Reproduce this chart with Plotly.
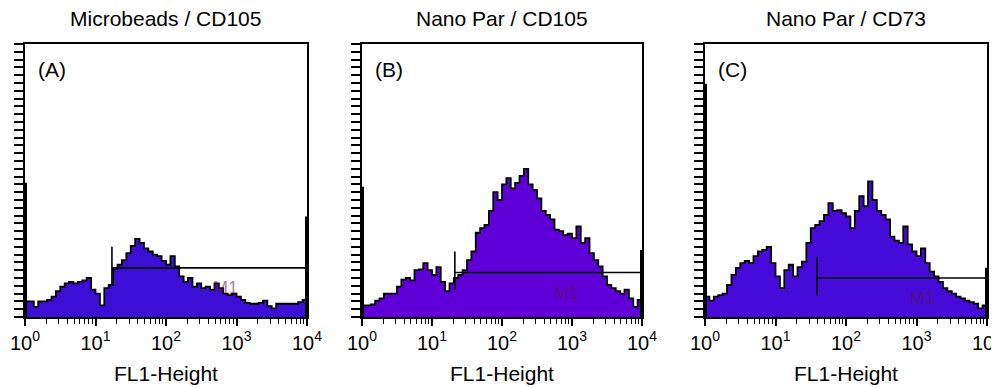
import math
import plotly.graph_objects as go

# ---------------- data ----------------
panel_titles = ["Microbeads / CD105", "Nano Par / CD105", "Nano Par / CD73"]
panel_letters = ["(A)", "(B)", "(C)"]
x_tick_values = [1, 10, 100, 1000, 10000]
x_tick_labels = ["10<sup>0</sup>", "10<sup>1</sup>", "10<sup>2</sup>", "10<sup>3</sup>", "10<sup>4</sup>"]
x_axis_title = "FL1-Height"

bins_per_decade = 16
n_bins = 64

counts_a = [20, 20, 13, 20, 20, 22, 26, 33, 39, 43, 45, 43, 45, 47, 50, 35,
            30, 15, 37, 41, 62, 67, 73, 82, 91, 100, 95, 88, 84, 80, 78, 72,
            67, 78, 65, 52, 45, 50, 39, 43, 37, 39, 35, 43, 37, 30, 28, 30,
            26, 22, 18, 17, 17, 18, 21, 14, 11, 17, 17, 17, 17, 17, 19, 22]
counts_b = [15, 15, 16, 21, 24, 30, 30, 30, 39, 48, 50, 47, 60, 61, 69, 60,
            54, 64, 45, 33, 43, 50, 54, 60, 73, 84, 108, 114, 118, 136, 160, 150,
            170, 178, 165, 172, 181, 190, 170, 163, 152, 136, 131, 125, 112, 110, 105, 107,
            101, 116, 95, 101, 82, 73, 65, 52, 41, 37, 33, 30, 35, 24, 13, 22]
counts_c = [26, 21, 26, 28, 30, 41, 54, 63, 69, 72, 69, 78, 84, 86, 90, 69,
            52, 37, 60, 67, 52, 64, 71, 95, 114, 118, 123, 131, 146, 136, 137, 133,
            129, 114, 136, 155, 142, 174, 150, 136, 131, 125, 103, 98, 95, 116, 93, 84,
            78, 88, 69, 58, 52, 45, 37, 33, 30, 26, 24, 21, 19, 17, 11, 15]
all_counts = [counts_a, counts_b, counts_c]

# counts piled up in the first and last channel
edge_low = [172, 167, 299]
edge_high = [129, 86, 63]

# M1 marker: start channel and level (counts)
marker_start = [17.1, 21.2, 38.8]
marker_level = [63, 57, 50]
marker_label_x = [10 ** 2.85, 10 ** 2.92, 10 ** 3.08]
marker_label_y = [37, 31, 24]

fill_colors = ["#3c0fd6", "#6000d8", "#470bd9"]

# ---------------- layout geometry ----------------
# the page body adds an 8 px margin, so the figure is 991 x 380
W, H, OFF = 991, 380, 8
def fx(px):
    return (px - OFF) / W
def fy(py):
    return 1 - (py - OFF) / H

panel_px = [(25, 307), (362, 642), (705, 987)]
x_domains = [[fx(a), fx(b)] for a, b in panel_px]
y_domain = [fy(317), fy(44)]
y_max = 350
FONT = "Liberation Sans, Arial"

fig = go.Figure()

edges = [10 ** (i / bins_per_decade) for i in range(n_bins + 1)]
minor_vals = [m * 10 ** d for d in range(4) for m in range(2, 10)]

for k in range(3):
    xa = "x" if k == 0 else f"x{k+1}"
    ya = "y" if k == 0 else f"y{k+1}"
    c = all_counts[k]
    fig.add_trace(go.Scatter(
        x=edges, y=c + [c[-1]], mode="lines", line_shape="hv",
        line=dict(color="black", width=1.8),
        fill="tozeroy", fillcolor=fill_colors[k],
        xaxis=xa, yaxis=ya, showlegend=False, hoverinfo="skip"))
    # edge channels
    fig.add_trace(go.Scatter(
        x=[1, 1, None, 10000, 10000], y=[0, edge_low[k], None, 0, edge_high[k]],
        mode="lines", line=dict(color="black", width=4),
        xaxis=xa, yaxis=ya, showlegend=False, hoverinfo="skip"))
    # M1 marker
    s, lv = marker_start[k], marker_level[k]
    fig.add_trace(go.Scatter(
        x=[s, s, None, s, 10000], y=[lv - 22, lv + 27, None, lv, lv],
        mode="lines", line=dict(color="black", width=1.6),
        xaxis=xa, yaxis=ya, showlegend=False, hoverinfo="skip"))
    fig.add_annotation(x=math.log10(marker_label_x[k]),
                       y=marker_label_y[k], xref=xa, yref=ya, text="M1",
                       xanchor="center", yanchor="middle",
                       showarrow=False, font=dict(size=18, color="rgba(95,20,70,0.55)",
                                                   family=FONT))
    fig.add_annotation(x=0.04, y=0.955, xref=f"{xa} domain", yref=f"{ya} domain",
                       text=panel_letters[k], showarrow=False, xanchor="left", yanchor="top",
                       font=dict(size=21, color="black", family=FONT))
    fig.add_annotation(x=sum(x_domains[k]) / 2, y=fy(19), xref="paper", yref="paper",
                       text=panel_titles[k], showarrow=False,
                       xanchor="center", yanchor="middle",
                       font=dict(size=21, color="black", family=FONT))

    axis_common = dict(showline=True, linecolor="black", linewidth=1.6, mirror=True,
                       showgrid=False, zeroline=False, automargin=False)
    fig.layout[("xaxis" if k == 0 else f"xaxis{k+1}")] = dict(
        axis_common, domain=x_domains[k], anchor=ya, type="log", range=[0, 4],
        tickmode="array", tickvals=x_tick_values, ticktext=x_tick_labels,
        ticklabeloverflow="allow",
        ticks="outside", ticklen=7, tickwidth=1.6, tickcolor="black",
        tickfont=dict(size=20, color="black", family=FONT),
        minor=dict(tickmode="array", tickvals=minor_vals, ticks="outside",
                   ticklen=5, tickwidth=1.4, tickcolor="black", showgrid=False),
        title=dict(text=x_axis_title, standoff=14,
                   font=dict(size=21, color="black", family=FONT)))
    fig.layout[("yaxis" if k == 0 else f"yaxis{k+1}")] = dict(
        axis_common, domain=y_domain, anchor=xa, range=[0, y_max],
        tickmode="linear", tick0=0, dtick=10, ticks="outside", ticklen=9,
        tickwidth=1.8, tickcolor="black", showticklabels=False)

fig.update_layout(width=W, height=H, margin=dict(l=0, r=0, t=0, b=0),
                  paper_bgcolor="white", plot_bgcolor="white")
fig.write_html("out.html")
